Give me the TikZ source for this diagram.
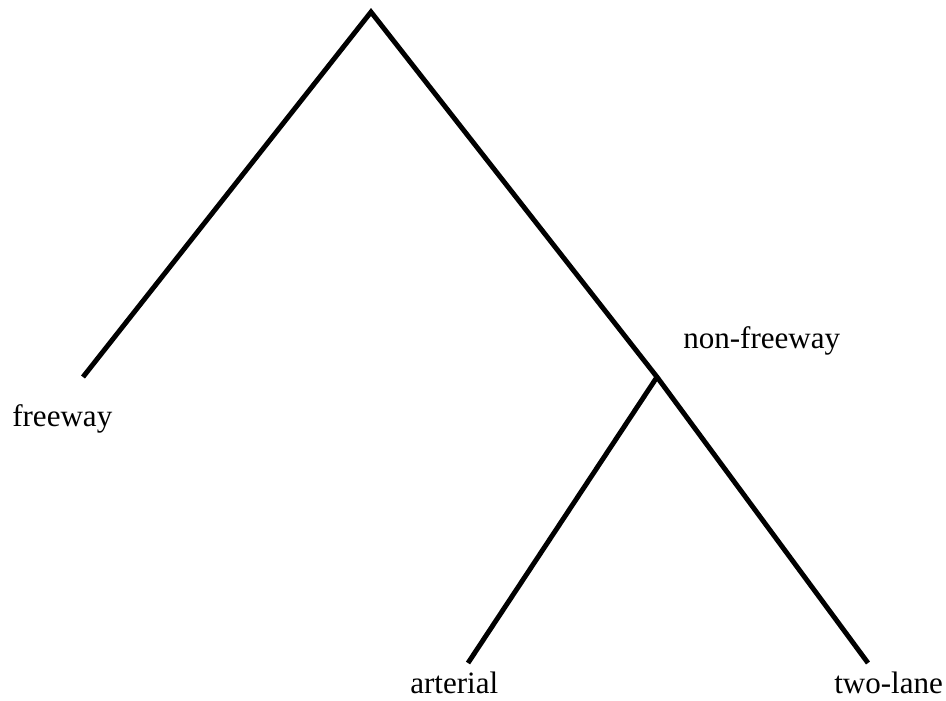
\documentclass[tikz,border=0pt]{standalone}
\usepackage{fontspec}
\setmainfont{Liberation Serif}
\usetikzlibrary{positioning}

\begin{document}
\begin{tikzpicture}[
  x=0.75pt, y=-0.75pt,
  branch/.style={line width=3.7pt, draw=black},
  leaflabel/.style={font=\fontsize{23.3}{26}\selectfont, inner sep=0pt, anchor=base west}
]
\useasboundingbox (0,0) rectangle (946,700);

\coordinate (root)   at (371,12);
\coordinate (fwend)  at (83,377);
\coordinate (nfw)    at (657,377);
\coordinate (artend) at (468,663);
\coordinate (tlend)  at (868,663);

\draw[branch] (fwend) -- (root) -- (nfw) -- (tlend);
\draw[branch] (nfw) -- (artend);

\node[leaflabel] (lfw)  at (12,426)  {freeway};
\node[leaflabel] (lnfw) at (683,348) {non-freeway};
\node[leaflabel] (lart) at (410,693) {arterial};
\node[leaflabel] (ltl)  at (834,693) {two-lane};
\end{tikzpicture}
\end{document}
